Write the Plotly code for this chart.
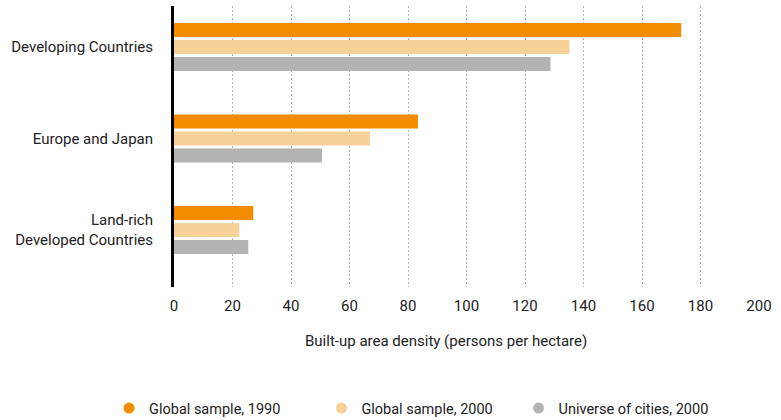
import plotly.graph_objects as go

# Built-up area density by region (persons per hectare)
regions = ["Developing Countries", "Europe and Japan", "Land-rich<br>Developed Countries"]
sample_1990 = [173.4, 83.4, 27.1]
sample_2000 = [135.2, 67.0, 22.3]
universe_2000 = [128.7, 50.6, 25.4]

series_names = ["Global sample, 1990", "Global sample, 2000", "Universe of cities, 2000"]
series_values = [sample_1990, sample_2000, universe_2000]
series_colors = ["#F28C00", "#F8D199", "#B3B4B2"]

x_ticks = list(range(0, 201, 20))
x_title = "Built-up area density (persons per hectare)"

FONT = "Roboto, 'Liberation Sans', sans-serif"
TEXT = "#222222"

fig = go.Figure()

for name, vals, color in zip(series_names, series_values, series_colors):
    fig.add_trace(go.Bar(
        y=regions, x=vals, orientation="h", name=name,
        marker=dict(color=color, line=dict(width=0)),
        showlegend=False, hoverinfo="x+name",
    ))

# one small legend per series, laid out along the bottom
legend_ids = ["legend", "legend2", "legend3"]
legend_x = [-0.111, 0.252, 0.589]
for name, color, lid in zip(series_names, series_colors, legend_ids):
    fig.add_trace(go.Scatter(
        x=[None], y=[None], mode="markers", name=name,
        marker=dict(color=color, size=11, symbol="circle"),
        legend=lid, showlegend=True,
    ))

legend_common = dict(
    orientation="h", yanchor="middle", xanchor="left", y=-0.431,
    font=dict(family=FONT, size=14.5, color=TEXT),
    bgcolor="rgba(0,0,0,0)", borderwidth=0,
)
layout_legends = {}
for lid, lx in zip(legend_ids, legend_x):
    layout_legends[lid] = dict(legend_common, x=lx)

fig.update_layout(
    width=781, height=420,
    margin=dict(l=174, r=22, t=6, b=133, autoexpand=False),
    paper_bgcolor="white", plot_bgcolor="white",
    barmode="group", bargap=0.443, bargroupgap=0.176,
    font=dict(family=FONT, size=15, color=TEXT),
    xaxis=dict(
        range=[0, 200], tickvals=x_ticks, ticktext=[str(t) for t in x_ticks],
        showgrid=True, gridcolor="#ADADAD", gridwidth=1, griddash="2px,2px",
        zeroline=False, showline=False, ticks="",
        ticklabelstandoff=8,
        tickfont=dict(family=FONT, size=15, color=TEXT),
        fixedrange=True,
    ),
    yaxis=dict(
        type="category", range=[2.623, -0.448],
        showline=True, linecolor="#000000", linewidth=3,
        showgrid=False, zeroline=False, ticks="",
        ticklabelstandoff=15,
        tickfont=dict(family=FONT, size=15, color=TEXT),
        fixedrange=True,
    ),
    annotations=[dict(
        text=x_title, xref="paper", yref="paper", x=0.465, y=-0.192,
        xanchor="center", yanchor="middle", showarrow=False,
        font=dict(family=FONT, size=15, color=TEXT),
    )],
    **layout_legends,
)

fig.write_html("out.html")
